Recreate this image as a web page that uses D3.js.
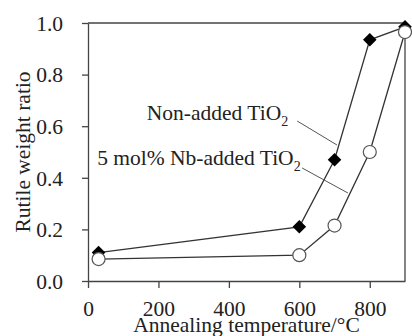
<!DOCTYPE html>
<html>
<head>
<meta charset="utf-8">
<script src="https://cdn.jsdelivr.net/npm/d3@7"></script>
<style>
  body { margin: 0; background: #fff; }
  svg text { font-family: "Liberation Serif", Tinos, "Times New Roman", Times, "DejaVu Serif", serif !important; }
</style>
</head>
<body>
<svg width="412" height="336"></svg>
<script>
// annealing temperatures (deg C) and rutile weight ratio for both samples
const temps = [30, 600, 700, 800, 900]
const nonAdded = [0.11, 0.21, 0.47, 0.935, 0.985]
const nbAdded = [0.085, 0.1, 0.215, 0.5, 0.965]
const xTicks = [0, 200, 400, 600, 800]
const yTicks = [0, 0.2, 0.4, 0.6, 0.8, 1.0]

const svg = d3.select("svg")
const margin = { top: 23, right: 7, bottom: 55, left: 88 }
const width = +svg.attr("width") - margin.left - margin.right
const height = +svg.attr("height") - margin.top - margin.bottom
const g = svg.append("g")
  .attr("transform", "translate(" + margin.left + "," + margin.top + ")")

const x = d3.scaleLinear().domain([0, 900]).range([0, width])
const y = d3.scaleLinear().domain([0, 1]).range([height, 0])

const fs = 21.5
const axisColor = "#444"

// frame (top and right)
g.append("path")
  .attr("d", "M0,0H" + width + "V" + height)
  .attr("fill", "none")
  .attr("stroke", axisColor)
  .attr("stroke-width", 1.3)

// x axis
const xa = g.append("g")
  .attr("transform", "translate(0," + height + ")")
  .call(d3.axisBottom(x).tickValues(xTicks).tickSize(7).tickSizeOuter(0).tickFormat(d3.format("d")))
xa.select(".domain").attr("stroke", axisColor).attr("stroke-width", 1.3)
xa.selectAll(".tick line").attr("stroke", axisColor).attr("stroke-width", 1.3)
xa.selectAll(".tick text")
  .attr("y", 35).attr("dy", 0)
  .attr("font-size", fs).attr("fill", "#222")

// y axis
const ya = g.append("g")
  .call(d3.axisLeft(y).tickValues(yTicks).tickSize(6).tickSizeOuter(0).tickFormat(d3.format(".1f")))
ya.select(".domain").attr("stroke", axisColor).attr("stroke-width", 1.3)
ya.selectAll(".tick line").attr("stroke", axisColor).attr("stroke-width", 1.3)
ya.selectAll(".tick text")
  .attr("x", -25).attr("dy", "0.34em")
  .attr("font-size", fs).attr("fill", "#222")

// axis titles
g.append("text")
  .attr("x", width / 2).attr("y", height + 51)
  .attr("text-anchor", "middle").attr("font-size", fs).attr("fill", "#222")
  .text("Annealing temperature/°C")

g.append("text")
  .attr("transform", "translate(" + (30 - margin.left) + "," + (height / 2) + ") rotate(-90)")
  .attr("text-anchor", "middle").attr("font-size", fs).attr("fill", "#222")
  .text("Rutile weight ratio")

// lines
const line = d3.line().x((d) => x(d[0])).y((d) => y(d[1]))
const nonData = temps.map((t, i) => [t, nonAdded[i]])
const nbData = temps.map((t, i) => [t, nbAdded[i]])

g.append("path").datum(nonData).attr("d", line)
  .attr("fill", "none").attr("stroke", "#333").attr("stroke-width", 1.3)
g.append("path").datum(nbData).attr("d", line)
  .attr("fill", "none").attr("stroke", "#333").attr("stroke-width", 1.3)

// diamonds
g.selectAll(".dia").data(nonData).enter().append("path")
  .attr("class", "dia")
  .attr("d", d3.symbol(d3.symbolSquare, 92)())
  .attr("transform", (d) => "translate(" + x(d[0]) + "," + y(d[1]) + ") rotate(45)")
  .attr("fill", "#000")

// circles
g.selectAll(".circ").data(nbData).enter().append("circle")
  .attr("class", "circ")
  .attr("cx", (d) => x(d[0])).attr("cy", (d) => y(d[1])).attr("r", 6.5)
  .attr("fill", "#fff").attr("stroke", "#555").attr("stroke-width", 1.2)

// labels with leader lines (data units)
const labels = [
  { text: "Non-added TiO", tx: 167, ty: 0.624, from: [594, 0.62], to: [707, 0.527] },
  { text: "5 mol% Nb-added TiO", tx: 26, ty: 0.45, from: [608, 0.438], to: [738, 0.341] }
]
labels.forEach((l) => {
  const t = g.append("text")
    .attr("x", x(l.tx)).attr("y", y(l.ty))
    .attr("font-size", fs).attr("fill", "#222")
  t.append("tspan").text(l.text)
  t.append("tspan").attr("font-size", 14).attr("dy", 6).text("2")
  g.append("line")
    .attr("x1", x(l.from[0])).attr("y1", y(l.from[1]))
    .attr("x2", x(l.to[0])).attr("y2", y(l.to[1]))
    .attr("stroke", "#555").attr("stroke-width", 1)
})
</script>
</body>
</html>
